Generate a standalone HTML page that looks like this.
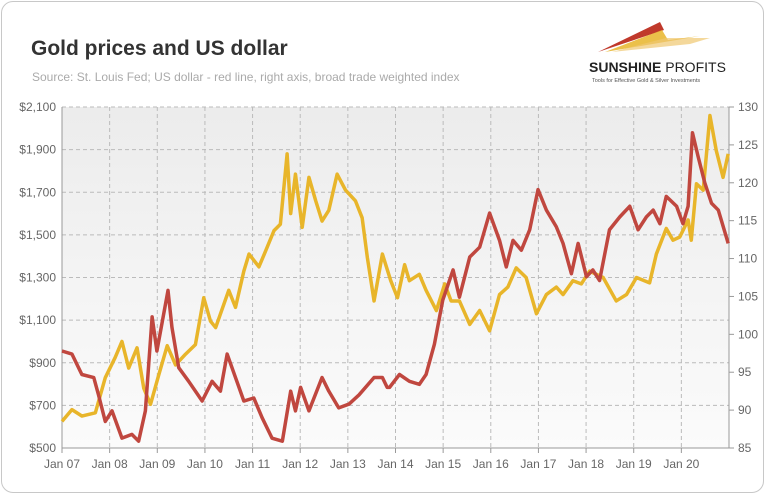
<!DOCTYPE html>
<html><head><meta charset="utf-8"><style>
body{margin:0;background:#fff;font-family:"Liberation Sans",sans-serif}
#card{position:absolute;left:1px;top:1px;width:761px;height:490px;border:1px solid #c8c8c8;border-radius:12px;background:#fff}
</style></head><body>
<div id="card"></div>
<svg id="chart" width="765" height="494" style="position:absolute;left:0;top:0">
<defs><linearGradient id="bg" x1="0" y1="0" x2="0" y2="1"><stop offset="0" stop-color="#ececec"/><stop offset="1" stop-color="#fbfbfb"/></linearGradient></defs>
<text x="31" y="55" font-size="21" font-weight="bold" fill="#333">Gold prices and US dollar</text>
<text x="32" y="81" font-size="12" fill="#aaa">Source: St. Louis Fed; US dollar - red line, right axis, broad trade weighted index</text>
<g>
<polygon points="598,52 660,22 664,30" fill="#c0392b"/>
<polygon points="605,52 662,30 668,40 700,36" fill="#e8b52a" opacity="0.85"/>
<polygon points="612,52 666,38 710,38 690,44" fill="#f0c870" opacity="0.7"/>
<text x="589" y="72" font-size="14" font-weight="bold" fill="#222">SUNSHINE <tspan font-weight="normal">PROFITS</tspan></text>
<text x="592" y="82" font-size="5.5" fill="#555">Tools for Effective Gold &amp; Silver Investments</text>
</g>
<g id="plot"></g>
</svg>
<script>
const goldMonths=[0,2.5,5,8.4,10.9,13.4,15.1,16.8,18.9,20.6,22.3,24.4,26.5,28.6,31.1,33.6,35.7,37.4,38.7,42,43.7,45.8,47.1,49.6,51.3,53.4,55,56.7,57.6,58.8,60.5,62.2,63.9,65.5,67.2,69.3,71.4,73.9,75.6,76.9,78.6,80.7,82.8,84.5,86.3,87.5,90,91.7,94.3,96.4,98,100.1,102.7,105.2,107.7,110.2,112.3,114.4,116.9,119.5,122,124.5,126.2,128.7,130.8,132.9,136.3,139.6,142.2,144.7,148,149.7,152.2,153.9,155.6,157.7,158.5,159.8,161.5,163.2,164.8,166.5,167.8];
const goldValues=[625,680,650,665,830,925,1000,875,970,780,705,845,980,890,940,985,1205,1095,1065,1240,1160,1330,1410,1350,1425,1520,1550,1880,1600,1785,1535,1770,1660,1565,1615,1785,1710,1660,1580,1395,1190,1410,1285,1205,1360,1285,1315,1240,1145,1270,1190,1190,1080,1145,1050,1220,1255,1345,1300,1130,1220,1255,1220,1285,1270,1330,1300,1190,1220,1300,1275,1410,1530,1475,1490,1570,1475,1740,1710,2060,1895,1770,1880];
const usdMonths=[0,2.5,5,8,9.2,10.9,12.6,15.1,17.6,19.3,21,22.7,23.9,26.7,27.7,29.4,31.9,35.3,37.8,39.9,41.6,43.7,45.8,48.3,50.4,52.9,55.5,57.6,58.8,60.1,62.2,65.5,67.2,69.7,72.3,74.8,78.6,80.7,81.9,82.5,85,87.5,90,91.7,93.8,95.9,98.5,100.1,102.7,105.2,107.7,110.2,111.9,113.6,115.7,117.8,119.9,122,124.5,126.2,128.3,130,132.1,133.7,135.4,137.9,140.5,143,145.1,147.2,148.9,150.6,152.2,154.8,156.4,157.7,158.8,160.2,161.9,163.6,165.3,167.8];
const usdValues=[97.8,97.4,94.7,94.3,92,88.5,89.9,86.3,86.8,85.9,89.9,102.3,97.8,105.8,100.9,95.6,93.8,91.2,93.8,92.5,97.4,94.3,91.2,91.6,89,86.3,85.9,92.5,89.9,93,89.9,94.3,92.5,90.3,90.8,92,94.3,94.3,93,93,94.7,93.8,93.4,94.7,98.7,104.5,108.5,104.9,110.2,111.5,116,112.4,108.9,112.4,111.1,113.8,119.1,116.4,114.2,112,108,112,107.6,108.5,107.1,113.8,115.5,116.9,113.8,115.5,116.4,114.6,118.2,116.9,114.6,116.9,126.6,123.5,120,117.3,116.4,112];
const xLabels=["Jan 07","Jan 08","Jan 09","Jan 10","Jan 11","Jan 12","Jan 13","Jan 14","Jan 15","Jan 16","Jan 17","Jan 18","Jan 19","Jan 20"];
const leftTicks=[500,700,900,1100,1300,1500,1700,1900,2100];
const rightTicks=[85,90,95,100,105,110,115,120,125,130];
const L=62,R=729,T=107,B=448,NS="http://www.w3.org/2000/svg";
const x=m=>L+(R-L)*m/168;
const yL=v=>B-(v-500)/1600*(B-T);
const yR=v=>B-(v-85)/45*(B-T);
const g=document.getElementById('plot');
function el(t,a){const e=document.createElementNS(NS,t);for(const k in a)e.setAttribute(k,a[k]);g.appendChild(e);return e;}
el('rect',{x:L,y:T,width:R-L,height:B-T,fill:'url(#bg)'});
leftTicks.forEach(v=>{
 if(v>500){const l=el('line',{x1:L,x2:R,y1:yL(v),y2:yL(v),stroke:'#bbb','stroke-dasharray':'4,3'});
 }
 const t=el('text',{x:L-6,y:yL(v)+4,'text-anchor':'end','font-size':12,fill:'#666'});t.textContent='$'+v.toLocaleString('en-US');
 
});
xLabels.forEach((s,i)=>{
 const xx=x(i*12);
 if(i>0){const l=el('line',{x1:xx,x2:xx,y1:T,y2:B,stroke:'#bbb','stroke-dasharray':'4,3'});
 }
 el('line',{x1:xx,x2:xx,y1:B,y2:B+5,stroke:'#999'});
 const t=el('text',{x:xx,y:B+20,'text-anchor':'middle','font-size':12,fill:'#666'});t.textContent=s;
 
});
rightTicks.forEach(v=>{
 el('line',{x1:R,x2:R+5,y1:yR(v),y2:yR(v),stroke:'#999'});
 const t=el('text',{x:R+9,y:yR(v)+4,'font-size':12,fill:'#666'});t.textContent=v;
 
});
el('line',{x1:L,x2:L,y1:T,y2:B,stroke:'#999'});
el('line',{x1:R,x2:R,y1:T,y2:B,stroke:'#999'});
el('line',{x1:L,x2:R,y1:B,y2:B,stroke:'#999'});
const gold=el('polyline',{points:goldValues.map((v,i)=>x(goldMonths[i])+','+yL(v)).join(' '),fill:'none',stroke:'#e8b52a','stroke-width':3.5,'stroke-linejoin':'round'});


const usd=el('polyline',{points:usdValues.map((v,i)=>x(usdMonths[i])+','+yR(v)).join(' '),fill:'none',stroke:'#c0473f','stroke-width':3.5,'stroke-linejoin':'round'});


</script>
</body></html>
